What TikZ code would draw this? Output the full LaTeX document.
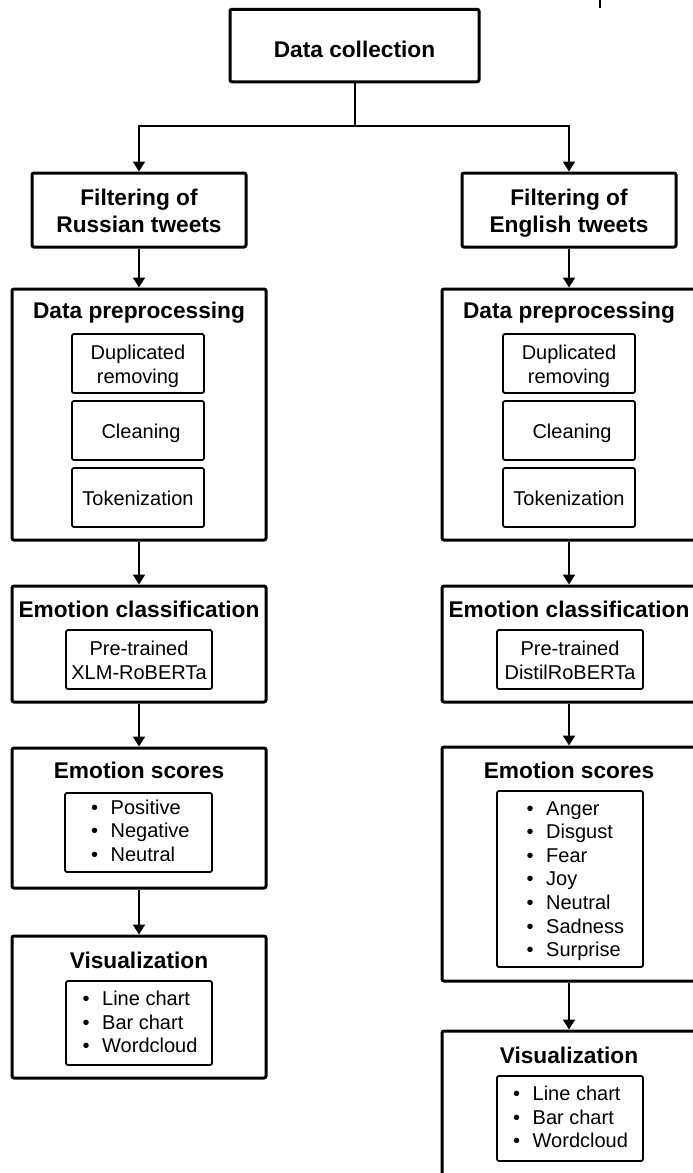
\documentclass[tikz,border=0pt]{standalone}
\usepackage{fontspec}
\setmainfont{Liberation Sans}
\usetikzlibrary{arrows.meta}
\newcommand\bl{\makebox[19.5pt][l]{\textbullet}}
\begin{document}
\begin{tikzpicture}[x=1pt,y=-1pt,
  outerbox/.style={draw, line width=3pt, rounded corners=2pt, inner sep=0pt},
  innerbox/.style={draw, line width=1.8pt, rounded corners=2pt, inner sep=0pt},
  ttl/.style={anchor=base, inner sep=0pt, font=\bfseries\fontsize{22.7pt}{27pt}\selectfont},
  txt/.style={anchor=base, inner sep=0pt, font=\fontsize{20pt}{24pt}\selectfont},
  lst/.style={anchor=base west, inner sep=0pt, font=\fontsize{20pt}{23.6pt}\selectfont},
  conn/.style={line width=2pt},
  arr/.style={line width=2pt, -{Triangle[length=10pt,width=12pt]}}
]
\useasboundingbox (0,0) rectangle (693,1173);
\clip (0,0) rectangle (693,1173);
\fill[white] (0,0) rectangle (693,1173);

% top
\node[outerbox, minimum width=249pt, minimum height=72.5pt] (dc) at (354.5,45.5) {};
\node[ttl] (dct) at (354.5,57) {Data collection};
\coordinate (tk1) at (600,0);
\coordinate (tk2) at (600,8);
\draw[line width=1.2pt] (tk1) -- (tk2);

\node[outerbox, minimum width=214pt, minimum height=74pt] (fr) at (139,210) {};
\node[ttl] (frt) at (139,205) {\begin{tabular}[t]{@{}c@{}}Filtering of\\Russian tweets\end{tabular}};
\node[outerbox, minimum width=214pt, minimum height=74pt] (fe) at (569,210) {};
\node[ttl] (fet) at (569,205) {\begin{tabular}[t]{@{}c@{}}Filtering of\\English tweets\end{tabular}};

\coordinate (br) at (354.5,126);
\draw[conn] (dc.south) -- (br);
\draw[arr] (br) -| (fr.north);
\draw[arr] (br) -| (fe.north);

% ---------- left column ----------
\node[outerbox, minimum width=254pt, minimum height=251pt] (lpre) at (139,414.5) {};
\node[ttl] (lpret) at (139,318) {Data preprocessing};
\node[innerbox, minimum width=132pt, minimum height=59pt] (ldup) at (138,363.5) {};
\node[txt] (lduptx) at (138,359) {\begin{tabular}[t]{@{}c@{}}Duplicated\\removing\end{tabular}};
\node[innerbox, minimum width=132pt, minimum height=59pt] (lcln) at (138,430.5) {};
\node[txt] (lclntx) at (141,438) {Cleaning};
\node[innerbox, minimum width=132pt, minimum height=59pt] (ltok) at (138,497.5) {};
\node[txt] (ltoktx) at (138,505) {Tokenization};

\node[outerbox, minimum width=254pt, minimum height=116pt] (lec) at (139,644) {};
\node[ttl] (lect) at (139,617) {Emotion classification};
\node[innerbox, minimum width=146pt, minimum height=59pt] (lecin) at (139,659.5) {};
\node[txt] (lectx) at (139,655) {\begin{tabular}[t]{@{}c@{}}Pre-trained\\XLM-RoBERTa\end{tabular}};

\node[outerbox, minimum width=254pt, minimum height=140pt] (les) at (139,818) {};
\node[ttl] (lest) at (139,778) {Emotion scores};
\node[innerbox, minimum width=147pt, minimum height=79pt] (lesin) at (138.5,832.5) {};
\node[lst] (lestx) at (91,814) {\begin{tabular}[t]{@{}l@{}}\bl Positive\\\bl Negative\\\bl Neutral\end{tabular}};

\node[outerbox, minimum width=254pt, minimum height=142pt] (lvz) at (139,1007) {};
\node[ttl] (lvzt) at (139,968) {Visualization};
\node[innerbox, minimum width=146pt, minimum height=84pt] (lvzin) at (139,1023) {};
\node[lst] (lvztx) at (82.5,1005.5) {\begin{tabular}[t]{@{}l@{}}\bl Line chart\\\bl Bar chart\\\bl Wordcloud\end{tabular}};

\draw[arr] (fr.south) -- (lpre.north);
\draw[arr] (lpre.south) -- (lec.north);
\draw[arr] (lec.south) -- (les.north);
\draw[arr] (les.south) -- (lvz.north);

% ---------- right column ----------
\node[outerbox, minimum width=254pt, minimum height=251pt] (rpre) at (569,414.5) {};
\node[ttl] (rpret) at (569,318) {Data preprocessing};
\node[innerbox, minimum width=132pt, minimum height=59pt] (rdup) at (569,363.5) {};
\node[txt] (rduptx) at (569,359) {\begin{tabular}[t]{@{}c@{}}Duplicated\\removing\end{tabular}};
\node[innerbox, minimum width=132pt, minimum height=59pt] (rcln) at (569,430.5) {};
\node[txt] (rclntx) at (572,438) {Cleaning};
\node[innerbox, minimum width=132pt, minimum height=59pt] (rtok) at (569,497.5) {};
\node[txt] (rtoktx) at (569,505) {Tokenization};

\node[outerbox, minimum width=254pt, minimum height=116pt] (rec) at (569,644) {};
\node[ttl] (rect) at (569,617) {Emotion classification};
\node[innerbox, minimum width=146pt, minimum height=59pt] (recin) at (570,659.5) {};
\node[txt] (rectx) at (570,655) {\begin{tabular}[t]{@{}c@{}}Pre-trained\\DistilRoBERTa\end{tabular}};

\node[outerbox, minimum width=254pt, minimum height=234pt] (res) at (569,864) {};
\node[ttl] (rest) at (569,778) {Emotion scores};
\node[innerbox, minimum width=146pt, minimum height=176pt] (resin) at (570,879) {};
\node[lst] (restx) at (526.5,815) {\begin{tabular}[t]{@{}l@{}}\bl Anger\\\bl Disgust\\\bl Fear\\\bl Joy\\\bl Neutral\\\bl Sadness\\\bl Surprise\end{tabular}};

\node[outerbox, minimum width=254pt, minimum height=146pt] (rvz) at (569,1104) {};
\node[ttl] (rvzt) at (569,1063) {Visualization};
\node[innerbox, minimum width=146pt, minimum height=85pt] (rvzin) at (570,1118.5) {};
\node[lst] (rvztx) at (513,1100.5) {\begin{tabular}[t]{@{}l@{}}\bl Line chart\\\bl Bar chart\\\bl Wordcloud\end{tabular}};

\draw[arr] (fe.south) -- (rpre.north);
\draw[arr] (rpre.south) -- (rec.north);
\draw[arr] (rec.south) -- (res.north);
\draw[arr] (res.south) -- (rvz.north);
\end{tikzpicture}
\end{document}
